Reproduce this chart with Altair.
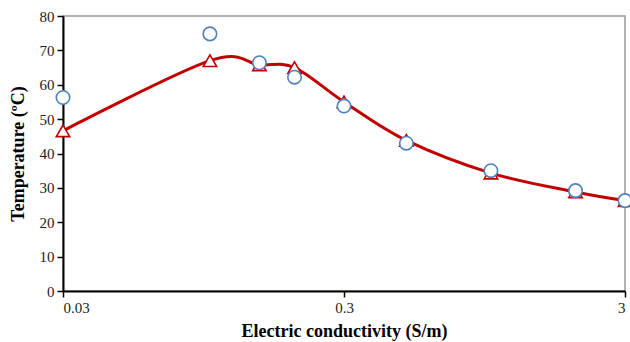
import altair as alt
import pandas as pd

conductivity = [0.03, 0.1, 0.15, 0.2, 0.3, 0.5, 1.0, 2.0, 3.0]
temp_circles = [56.3, 74.8, 66.4, 62.2, 53.8, 43.0, 35.0, 29.2, 26.3]
temp_triangles = [46.6, 67.0, 65.8, 65.0, 55.0, 43.8, 34.3, 28.8, 26.3]
x_ticks = [0.03, 0.3, 3]
y_ticks = [0, 10, 20, 30, 40, 50, 60, 70, 80]

df = pd.DataFrame({"x": conductivity, "c": temp_circles, "t": temp_triangles})

FONT = "Liberation Serif"
xs = alt.Scale(type="log", domain=[0.03, 3], nice=False)
ys = alt.Scale(domain=[0, 80], nice=False)

xaxis = alt.Axis(values=x_ticks, format="~g", title="Electric conductivity (S/m)",
                 labelPadding=3, titlePadding=7)
yaxis = alt.Axis(values=y_ticks, title="Temperature (ºC)",
                 labelPadding=3, titlePadding=12)

def X():
    return alt.X("x:Q", scale=xs, axis=xaxis)

def Y(f):
    return alt.Y(f + ":Q", scale=ys, axis=yaxis)

base = alt.Chart(df)
line = base.mark_line(color="#C00000", strokeWidth=3, interpolate="cardinal").encode(
    x=X(), y=Y("t"))
tri = base.mark_point(shape="triangle-up", filled=True, fill="white",
                      stroke="#C00000", strokeWidth=1.6, size=180, opacity=1).encode(
    x=X(), y=Y("t"))
circ = base.mark_point(shape="circle", filled=True, fill="white",
                       stroke="#4F81BD", strokeWidth=1.6, size=180, opacity=1).encode(
    x=X(), y=Y("c"))

chart = alt.layer(line, tri, circ).properties(
    width=562, height=275,
    autosize=alt.AutoSizeParams(type="none"),
    padding={"left": 63, "top": 16, "right": 5, "bottom": 51},
).configure(background="white", font=FONT).configure_view(
    stroke="#999999", strokeWidth=1.5).configure_axis(
    grid=False, domainColor="black", domainWidth=2, tickColor="black",
    tickWidth=1.5, tickSize=6, labelFont=FONT, labelFontSize=15,
    labelColor="#222222", labelOverlap=False, titleFont=FONT, titleFontSize=18,
    titleFontWeight="bold", titleColor="black",
)

chart.save("out.html", embed_options={"renderer": "svg", "actions": False})
